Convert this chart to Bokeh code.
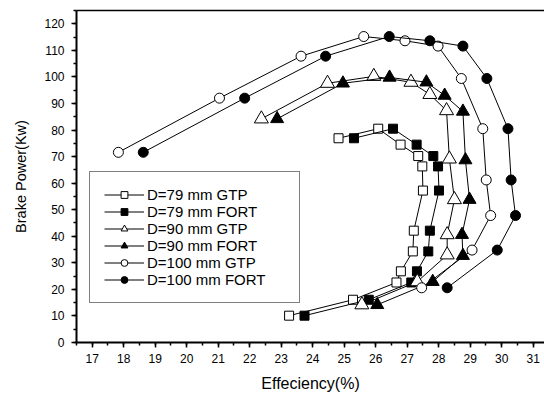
from bokeh.plotting import figure
from bokeh.models import Range1d, LinearAxis, SingleIntervalTicker, FixedTicker, Legend, LegendItem
from bokeh.embed import file_html
from bokeh.resources import INLINE

# ---- data ----
labels = ["D=79 mm GTP", "D=79 mm FORT", "D=90 mm GTP", "D=90 mm FORT", "D=100 mm GTP", "D=100 mm FORT"]

eff_79_gtp = [23.25, 25.28, 26.66, 26.80, 27.18, 27.21, 27.50, 27.48, 27.35, 26.79, 26.08, 24.82]
bp_79_gtp = [10.1, 16.1, 22.6, 26.8, 34.3, 42.1, 57.2, 66.3, 70.2, 74.5, 80.5, 76.9]

eff_79_fort = [23.74, 25.78, 27.13, 27.31, 27.67, 27.72, 28.01, 27.98, 27.83, 27.30, 26.55, 25.31]
bp_79_fort = [10.1, 16.1, 22.6, 26.8, 34.3, 42.1, 57.2, 66.3, 70.2, 74.5, 80.5, 76.9]

eff_90_gtp = [25.56, 27.32, 28.27, 28.27, 28.50, 28.34, 28.25, 27.72, 27.12, 25.94, 24.47, 22.37]
bp_90_gtp = [14.2, 22.9, 33.0, 40.6, 53.8, 69.1, 87.3, 93.4, 98.0, 100.2, 97.6, 84.2]

eff_90_fort = [26.05, 27.81, 28.77, 28.74, 28.98, 28.85, 28.77, 28.19, 27.61, 26.44, 24.96, 22.87]
bp_90_fort = [14.2, 22.9, 32.7, 40.6, 53.8, 68.7, 87.0, 93.0, 98.0, 99.8, 97.6, 84.2]

eff_100_gtp = [27.46, 29.06, 29.65, 29.51, 29.40, 28.72, 27.98, 26.93, 25.62, 23.63, 21.04, 17.83]
bp_100_gtp = [20.6, 34.8, 47.8, 61.2, 80.5, 99.4, 111.6, 113.6, 115.2, 107.8, 92.0, 71.6]

eff_100_fort = [28.27, 29.86, 30.44, 30.30, 30.20, 29.53, 28.77, 27.72, 26.43, 24.41, 21.84, 18.62]
bp_100_fort = [20.6, 34.8, 47.8, 61.2, 80.5, 99.4, 111.6, 113.6, 115.2, 107.8, 92.0, 71.6]

series = [
    (eff_79_gtp, bp_79_gtp, "square", "white", 9),
    (eff_79_fort, bp_79_fort, "square", "black", 9),
    (eff_90_gtp, bp_90_gtp, "triangle", "white", 14),
    (eff_90_fort, bp_90_fort, "triangle", "black", 13),
    (eff_100_gtp, bp_100_gtp, "circle", "white", 10),
    (eff_100_fort, bp_100_fort, "circle", "black", 10),
]

FONT = "Liberation Sans"

p = figure(width=544, height=394, output_backend="svg", toolbar_location=None,
           x_range=Range1d(16.5, 31.36), y_range=Range1d(0, 125),
           min_border_left=76, min_border_right=0, min_border_top=10, min_border_bottom=52)
p.outline_line_color = None
p.xgrid.visible = False
p.ygrid.visible = False
p.background_fill_color = "white"
p.border_fill_color = "white"

items = []
for (xs, ys, mk, fill, sz), lab in zip(series, labels):
    r1 = p.line(xs, ys, line_color="black", line_width=1)
    r2 = p.scatter(xs, ys, marker=mk, size=sz, fill_color=fill, line_color="black", line_width=1)
    items.append(LegendItem(label=lab, renderers=[r1, r2]))

legend = Legend(items=items, location=(13, 39))
legend.label_text_font = FONT
legend.label_text_font_size = "15px"
legend.label_text_color = "black"
legend.border_line_color = "black"
legend.border_line_width = 1
legend.background_fill_alpha = 1
legend.padding = 14
legend.margin = 0
legend.spacing = 0
legend.glyph_width = 40
legend.glyph_height = 17
legend.label_height = 14
legend.label_standoff = 3
legend.label_width = 138
p.add_layout(legend)

for ax, tick in ((p.xaxis, 1), (p.yaxis, 10)):
    ax.ticker = SingleIntervalTicker(interval=tick, num_minor_ticks=2)
    ax.axis_line_width = 2
    ax.axis_line_color = "black"
    ax.major_tick_line_color = "black"
    ax.minor_tick_line_color = "black"
    ax.major_tick_line_width = 1.5
    ax.minor_tick_line_width = 1.5
    ax.major_tick_out = 5
    ax.major_tick_in = 0
    ax.minor_tick_out = 3
    ax.minor_tick_in = 0
    ax.major_label_text_font = FONT
    ax.major_label_text_font_size = "12px"
    ax.major_label_text_color = "black"
    ax.axis_label_text_font = FONT
    ax.axis_label_text_font_style = "normal"
    ax.axis_label_text_color = "black"

p.xaxis.axis_label = "Effeciency(%)"
p.yaxis.axis_label = "Brake Power(Kw)"
p.xaxis.axis_label_text_font_size = "16px"
p.yaxis.axis_label_text_font_size = "14.5px"
p.xaxis.major_label_standoff = 6
p.yaxis.major_label_standoff = 7
p.xaxis.axis_label_standoff = 9
p.yaxis.axis_label_standoff = 12

top = LinearAxis(ticker=FixedTicker(ticks=[]), axis_line_width=1.3, axis_line_color="black",
                 major_tick_out=0, major_tick_in=0, minor_tick_out=0, minor_tick_in=0)
p.add_layout(top, "above")

open("out.html", "w").write(file_html(p, INLINE))
